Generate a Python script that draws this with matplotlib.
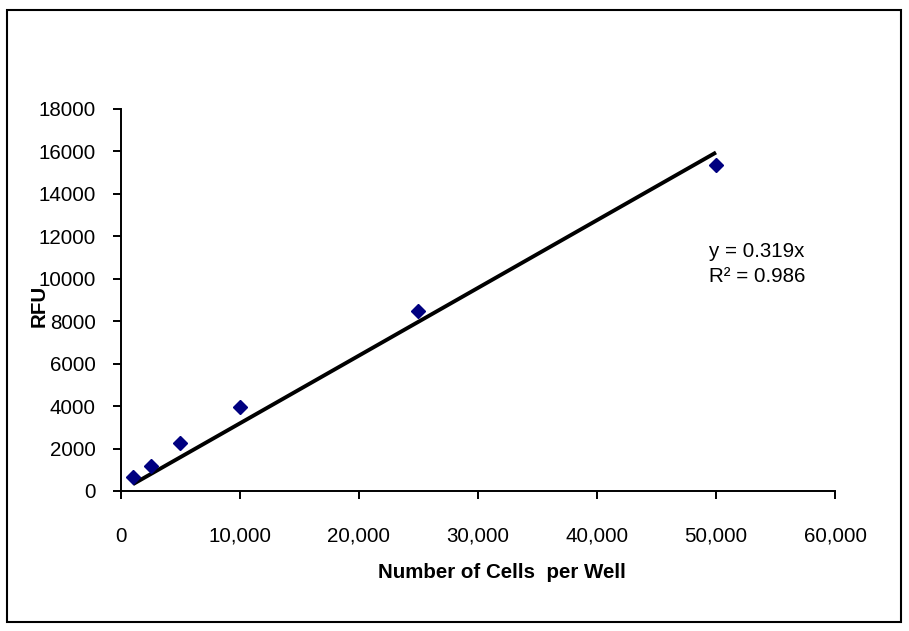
import matplotlib
matplotlib.use("Agg")
import matplotlib.pyplot as plt
from matplotlib.patches import Rectangle
from matplotlib.ticker import FuncFormatter

# cells per well vs RFU
cells = [1000, 2500, 5000, 10000, 25000, 50000]
rfu = [640, 1190, 2280, 3975, 8500, 15350]
slope = 0.319
r2 = 0.986
fit_x = [1000, 50000]
xticks = [0, 10000, 20000, 30000, 40000, 50000, 60000]
yticks = list(range(0, 18001, 2000))

plt.rcParams["font.family"] = ["Liberation Sans", "DejaVu Sans"]
FS = 14.8
W, H = 909, 631

fig = plt.figure(figsize=(9.09, 6.31), dpi=100)
ax = fig.add_axes([0.1331, 0.2219, 0.7855, 0.6054])

ax.plot(fit_x, [slope * v for v in fit_x], color="black", lw=2.8, solid_capstyle="butt", zorder=2)
ax.plot(cells, rfu, ls="none", marker="D", ms=7.4, color="#000080", mec="#000080", zorder=3)

ax.set_xlim(0, 60000); ax.set_ylim(0, 18000)
ax.set_xticks(xticks); ax.set_yticks(yticks)
ax.xaxis.set_major_formatter(FuncFormatter(lambda v, p: f"{v:,.0f}"))
for s in ("top", "right"):
    ax.spines[s].set_visible(False)
for s in ("left", "bottom"):
    ax.spines[s].set_linewidth(1.4)
ax.tick_params(axis="both", direction="out", length=5.6, width=1.4, labelsize=FS)
ax.tick_params(axis="x", pad=20)
ax.tick_params(axis="y", pad=12.5)

# axis titles (excel-style placement)
fig.text(502 / W, 1 - 572 / H, "Number of Cells  per Well", fontsize=FS,
         fontweight="bold", ha="center", va="center")
fig.text(39.5 / W, 1 - 306 / H, "RFU", fontsize=FS, fontweight="bold",
         rotation=90, ha="center", va="center")

# trendline label
fig.text(709 / W, 1 - 251.5 / H, f"y = {slope}x", fontsize=FS, ha="left", va="center")
fig.text(709 / W, 1 - 276 / H, f"R² = {r2}", fontsize=FS, ha="left", va="center")

# chart area border
fig.patches.append(Rectangle((7 / W, 9 / H), 894 / W, 612 / H, transform=fig.transFigure,
                             fill=False, ec="black", lw=1.5))

fig.savefig("out.png", dpi=100)
